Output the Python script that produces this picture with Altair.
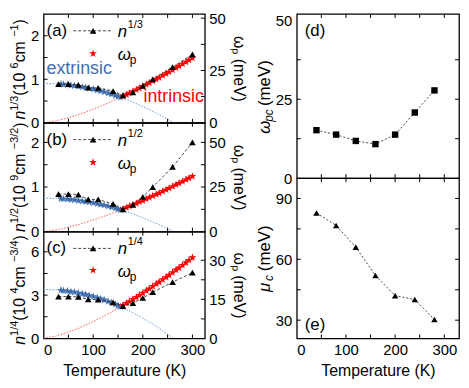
import altair as alt
import pandas as pd

FONT = "Liberation Sans"
STAR = ("M0,-1L0.2245,-0.309L0.951,-0.309L0.363,0.118L0.588,0.809L0,0.382"
        "L-0.588,0.809L-0.363,0.118L-0.951,-0.309L-0.2245,-0.309Z")

# ---------------- data ----------------
T_n = [30, 50, 70, 90, 110, 140, 160, 180, 200, 220, 260, 300]
n_13 = [0.89, 0.89, 0.87, 0.81, 0.80, 0.73, 0.63, 0.70, 0.85, 1.00, 1.28, 1.57]
n_12 = [0.84, 0.84, 0.83, 0.72, 0.72, 0.62, 0.50, 0.60, 0.78, 1.00, 1.45, 2.00]
n_14 = [2.90, 2.90, 2.88, 2.70, 2.68, 2.50, 2.24, 2.45, 2.80, 3.20, 3.90, 4.55]

T_ext = [35, 40, 48, 55, 62, 70, 78, 85, 92, 100, 108, 115, 122, 130, 137, 145, 150, 155]
w_ext = [18.5, 18.3, 18.2, 17.9, 17.8, 17.4, 17.1, 16.8, 16.5, 16.1, 15.6, 15.2,
         14.8, 14.2, 13.7, 13.1, 12.6, 12.2]
T_int = [160, 167, 173, 180, 187, 193, 200, 207, 213, 220, 227, 233, 240, 247,
         253, 260, 267, 273, 280, 287, 293, 300]
w_int = [12.7, 13.5, 14.2, 15.0, 15.8, 16.6, 17.4, 18.3, 19.1, 20.0, 20.9, 21.6,
         22.6, 23.5, 24.3, 25.3, 26.3, 27.1, 28.1, 29.1, 30.0, 31.0]
w_err = 1.2

fitT_ext = [0, 25, 50, 75, 100, 125, 150, 175, 200, 225, 250, 262]
fit_ext = [18.8, 18.6, 18.1, 17.3, 16.1, 14.5, 12.6, 10.4, 7.8, 4.9, 1.7, 0.0]
fitT_int = [0, 25, 50, 75, 100, 125, 150, 175, 200, 225, 250, 275, 300]
fit_int = [0.0, 0.9, 2.4, 4.3, 6.5, 8.9, 11.6, 14.4, 17.4, 20.6, 23.9, 27.4, 31.0]

T_c = [40, 80, 120, 160, 200, 240, 280]
w_pc = [15.2, 13.8, 11.8, 10.8, 13.8, 20.8, 27.8]
mu_c = [82.8, 76.7, 66.0, 52.0, 42.1, 40.2, 30.3]

# ---------------- layout constants ----------------
WL, WR = 163, 164
HA, HB, HC = 110, 110, 108
HD, HE = 166, 162
TK = 4
BLUE = "#3f6fb0"
BLUE_FIT = "#6b9ad6"
RED = "#ff0000"
RED_FIT = "#ff5a5a"

# approximate advance widths (em) of Liberation Sans, for composing rotated titles
CW = {"n": 0.556, " ": 0.278, "(": 0.333, ")": 0.333, "/": 0.278, "c": 0.5, "m": 0.833,
      "−": 0.584}


def width(s, size):
    return sum(CW.get(ch, 0.556) for ch in s) * size


def one():
    return alt.Data(values=[{}])


def txt(s, x, y, size=17, color="black", align="left", angle=0, style="normal"):
    kw = dict(text=s, align=align, baseline="middle", fontSize=size, font=FONT,
              color=color, fontStyle=style)
    if angle:
        kw["angle"] = angle
    return alt.Chart(one()).mark_text(**kw).encode(x=alt.value(x), y=alt.value(y))


def rot_title(pieces, X, yc):
    """pieces: (text, size, style, is_superscript); drawn bottom-to-top."""
    total = sum(width(s, sz) for s, sz, st, sup in pieces)
    y = yc + total / 2
    out = []
    for s, sz, st, sup in pieces:
        out.append(txt(s, X - 5 if sup else X, y, sz, style=st, angle=270))
        y -= width(s, sz)
    return out


def xticks(vals, xsc, xax, H):
    d = pd.DataFrame({"t": vals})
    base = alt.Chart(d).mark_rule(color="black", strokeWidth=1)
    x = alt.X("t:Q", scale=xsc, axis=xax)
    return [base.encode(x=x, y=alt.value(H), y2=alt.value(H - TK)),
            base.encode(x=x, y=alt.value(0), y2=alt.value(TK))]


def yticks(vals, ysc, yax, W, side):
    d = pd.DataFrame({"v": vals})
    base = alt.Chart(d).mark_rule(color="black", strokeWidth=1)
    y = alt.Y("v:Q", scale=ysc, axis=yax)
    if side == "left":
        return [base.encode(y=y, x=alt.value(0), x2=alt.value(TK))]
    return [base.encode(y=y, x=alt.value(W - TK), x2=alt.value(W))]


def left_panel(n_vals, ldom, rdom, lvals, lminor, rvals, rminor, title_pieces, title_yc,
               label, sup, H, bottom, ly, sy, annotate=False):
    W = WL
    xsc = alt.Scale(domain=[0, 325], nice=False, zero=False)
    ysl = alt.Scale(domain=ldom, nice=False, zero=False)
    ysr = alt.Scale(domain=rdom, nice=False, zero=False)
    xax = (alt.Axis(values=[0, 100, 200, 300], title="Temperauture (K)", ticks=False,
                    domain=False, grid=False, labelPadding=4, titlePadding=6)
           if bottom else None)
    yax_r = alt.Axis(values=rvals, title="ωₚ (meV)", orient="right", ticks=False,
                     domain=False, grid=False, labelPadding=4, titlePadding=5)
    yax_l = alt.Axis(values=lvals, title=None, orient="left", ticks=False,
                     domain=False, grid=False, labelPadding=5)

    # right-scale group (omega_p)
    dfe = pd.DataFrame({"T": fitT_ext, "w": fit_ext})
    dfi = pd.DataFrame({"T": fitT_int, "w": fit_int})
    de = pd.DataFrame({"T": T_ext, "w": w_ext})
    di = pd.DataFrame({"T": T_int, "w": w_int})
    X = alt.X("T:Q", scale=xsc, axis=xax)
    Yr = alt.Y("w:Q", scale=ysr, axis=yax_r)
    right_layers = [
        alt.Chart(dfe).mark_line(color=BLUE_FIT, strokeDash=[1.5, 1.5], strokeWidth=1, clip=True)
        .encode(x=X, y=Yr),
        alt.Chart(dfi).mark_line(color=RED_FIT, strokeDash=[1.5, 1.5], strokeWidth=1, clip=True)
        .encode(x=X, y=Yr),
    ]
    for d, ecol in ((de, "#b3cbea"), (di, "#ffb3b3")):
        right_layers.append(
            alt.Chart(d).transform_calculate(lo=f"datum.w - {w_err}", hi=f"datum.w + {w_err}")
            .mark_rule(color=ecol, strokeWidth=1.2)
            .encode(x=X, y=alt.Y("lo:Q", scale=ysr, axis=yax_r), y2="hi:Q"))
    right_layers.append(
        alt.Chart(de).mark_point(shape=STAR, filled=True, color=BLUE, size=70, opacity=1)
        .encode(x=X, y=Yr))
    right_layers.append(
        alt.Chart(di).mark_point(shape=STAR, filled=True, color=RED, size=70, opacity=1)
        .encode(x=X, y=Yr))
    right_layers += yticks(rminor, ysr, yax_r, W, "right")
    right = alt.layer(*right_layers)

    # left-scale group (n)
    dn = pd.DataFrame({"T": T_n, "n": n_vals})
    Yl = alt.Y("n:Q", scale=ysl, axis=yax_l)
    left_layers = [
        alt.Chart(dn).mark_line(color="#333333", strokeDash=[3, 2], strokeWidth=0.9)
        .encode(x=X, y=Yl),
        alt.Chart(dn).mark_point(shape="triangle-up", filled=True, color="black", size=45,
                                 opacity=1)
        .encode(x=X, y=Yl),
    ]
    left_layers += yticks(lminor, ysl, yax_l, W, "left")
    left_layers += xticks([50, 100, 150, 200, 250, 300], xsc, xax, H)
    # legend
    left_layers += [
        alt.Chart(one()).mark_rule(color="#333333", strokeDash=[3, 2], strokeWidth=0.9)
        .encode(x=alt.value(30), x2=alt.value(70), y=alt.value(ly)),
        alt.Chart(one()).mark_point(shape="triangle-up", filled=True, color="black", size=45,
                                    opacity=1)
        .encode(x=alt.value(50), y=alt.value(ly)),
        txt("n", 75, ly + 1, 17, style="italic"),
        txt(sup, 85, ly - 6, 11),
        alt.Chart(one()).mark_point(shape=STAR, filled=True, color=RED, size=70, opacity=1)
        .encode(x=alt.value(50), y=alt.value(sy)),
        txt("ω", 75, sy + 2, 17, style="italic"),
        txt("p", 87, sy + 7, 12),
        txt(label, 3, ly, 17),
    ]
    left_layers += rot_title(title_pieces, -24, title_yc)
    if annotate:
        left_layers += [
            txt("extrinsic", 3, 56, 18, color=BLUE),
            txt("intrinsic", 162, 84, 18, color=RED, align="right"),
        ]
    left = alt.layer(*left_layers)

    return (alt.layer(right, left).resolve_scale(y="independent")
            .properties(width=W, height=H))


def right_panel(T, vals, ydom, yvals, yminor, H, shape, bottom, label, label_y, title_parts):
    W = WR
    xsc = alt.Scale(domain=[0, 330], nice=False, zero=False)
    ysc = alt.Scale(domain=ydom, nice=False, zero=False)
    xax = (alt.Axis(values=[0, 100, 200, 300], title="Temperature (K)", ticks=False,
                    domain=False, grid=False, labelPadding=4, titlePadding=6)
           if bottom else None)
    yax = alt.Axis(values=yvals, title=None, orient="left", ticks=False,
                   domain=False, grid=False, labelPadding=5)
    d = pd.DataFrame({"T": T, "v": vals})
    X = alt.X("T:Q", scale=xsc, axis=xax)
    Y = alt.Y("v:Q", scale=ysc, axis=yax)
    layers = [
        alt.Chart(d).mark_line(color="#333333", strokeDash=[2, 2], strokeWidth=0.9)
        .encode(x=X, y=Y),
        alt.Chart(d).mark_point(shape=shape, filled=True, color="black", size=42, opacity=1)
        .encode(x=X, y=Y),
    ]
    layers += yticks(yminor, ysc, yax, W, "left")
    layers += yticks(yminor, ysc, yax, W, "right")
    layers += xticks([50, 100, 150, 200, 250, 300], xsc, xax, H)
    layers.append(txt(label, 8, label_y, 17))
    for s, x, y, size, style in title_parts:
        layers.append(txt(s, x, y, size, style=style, angle=270))
    return alt.layer(*layers).properties(width=W, height=H)


def n_title(p, e10, e_cm):
    return [("n", 16, "italic", False), (p, 11, "normal", True), (" (10", 16, "normal", False),
            (e10, 11, "normal", True), (" cm", 16, "normal", False),
            (e_cm, 11, "normal", True), (")", 16, "normal", False)]


pa = left_panel(n_13, [0, 2.5], [0, 52], [0, 1, 2], [0.5, 1, 1.5, 2], [0, 25, 50],
                [12.5, 25, 37.5, 50], n_title("1/3", "6", "−1"), 56, "(a)", "1/3", HA,
                False, 17, 40, annotate=True)
pb = left_panel(n_12, [0, 2.44], [0, 61], [0, 1, 2], [0.5, 1, 1.5, 2], [0, 25, 50],
                [12.5, 25, 37.5, 50], n_title("1/2", "9", "−3/2"), 55, "(b)", "1/2", HB,
                False, 17, 40)
pc = left_panel(n_14, [0, 7.4], [0, 41], [0, 3, 6], [1.5, 3, 4.5, 6], [0, 15, 30],
                [7.5, 15, 22.5, 30], n_title("1/4", "4", "−3/4"), 59, "(c)", "1/4", HC,
                True, 17, 39)

pdd = right_panel(T_c, w_pc, [0, 52], [0, 25, 50], [12.5, 25, 37.5], HD, "square", False,
                  "(d)", 17,
                  [("ω", -32, 121, 17, "italic"), ("pc", -28, 109, 12, "italic"),
                   ("(meV)", -32, 93, 17, "normal")])
pe = right_panel(T_c, mu_c, [21, 100], [30, 60, 90], [30, 45, 60, 75, 90], HE,
                 "triangle-up", True, "(e)", 148,
                 [("μ", -32, 115, 17, "italic"), ("c", -28, 104, 12, "italic"),
                  ("(meV)", -32, 94, 17, "normal")])

chart = alt.hconcat(
    alt.vconcat(pa, pb, pc, spacing=0, bounds="flush"),
    alt.vconcat(pdd, pe, spacing=0, bounds="flush"),
    spacing=8,
).properties(padding=0).configure_axis(
    labelFont=FONT, titleFont=FONT, labelColor="black", titleColor="black",
    labelFontSize=15, titleFontSize=16, titleFontWeight="normal",
).configure_view(stroke="black", strokeWidth=1.3).configure_text(font=FONT)

chart.save("out.html", embed_options={"renderer": "svg", "actions": False})
